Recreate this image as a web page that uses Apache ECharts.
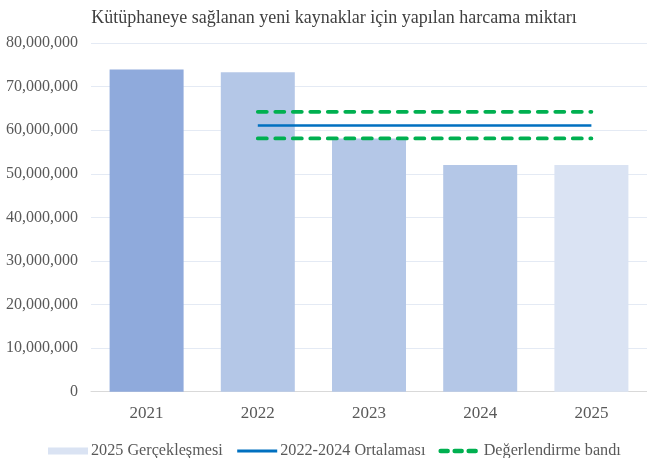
<!DOCTYPE html>
<html>
<head>
<meta charset="utf-8">
<script src="https://cdn.jsdelivr.net/npm/echarts@6/dist/echarts.min.js"></script>
<style>html,body{margin:0;padding:0;background:#fff}#c{width:647px;height:458px}</style>
</head>
<body>
<div id="c"></div>
<script>
const categories = ['2021', '2022', '2023', '2024', '2025'];
const spending = [73900000, 73300000, 58100000, 52000000, 52000000];
const average = [null, 61100000, 61100000, 61100000, 61100000];
const bandUpper = [null, 64200000, 64200000, 64200000, 64200000];
const bandLower = [null, 58100000, 58100000, 58100000, 58100000];
const yTicks = [0, 10000000, 20000000, 30000000, 40000000, 50000000, 60000000, 70000000, 80000000];

const barColors = ['#8FAADC', '#B4C7E7', '#B4C7E7', '#B4C7E7', '#DAE3F3'];
const FONT = '"Liberation Serif", "Times New Roman", serif';
const fmt = v => v.toLocaleString('en-US');

const chart = echarts.init(document.getElementById('c'), null, {renderer: 'canvas'});
chart.setOption({
  animation: false,
  textStyle: {fontFamily: FONT},
  title: {
    text: 'Kütüphaneye sağlanan yeni kaynaklar için yapılan harcama miktarı',
    left: 329, textAlign: 'center', top: 4,
    textStyle: {fontFamily: FONT, fontSize: 18, fontWeight: 'normal', color: '#404040'}
  },
  grid: {left: 91, width: 559, top: 43, bottom: 66.3},
  legend: {
    top: 438, left: 43,
    itemWidth: 40, itemHeight: 7, itemGap: 13,
    textStyle: {fontFamily: FONT, fontSize: 16.2, color: '#595959', padding: [0, 0, 0, -2]},
    data: [
      {name: '2025 Gerçekleşmesi', icon: 'rect'},
      {name: '2022-2024 Ortalaması', itemStyle: {opacity: 0}, lineStyle: {width: 3}},
      {name: 'Değerlendirme bandı', itemStyle: {opacity: 0}, lineStyle: {width: 4.5, type: [7, 7], cap: 'round'}}
    ]
  },
  xAxis: {
    type: 'category', data: categories,
    axisLine: {lineStyle: {color: '#D9D9D9', width: 1}},
    axisTick: {show: false},
    axisLabel: {fontFamily: FONT, fontSize: 17, color: '#595959', margin: 13}
  },
  yAxis: {
    type: 'value', min: yTicks[0], max: yTicks[yTicks.length - 1], interval: yTicks[1] - yTicks[0],
    axisLine: {show: false}, axisTick: {show: false},
    splitLine: {lineStyle: {color: '#E4EAF4', width: 1}},
    axisLabel: {fontFamily: FONT, fontSize: 16, color: '#595959', margin: 13, formatter: fmt}
  },
  series: [
    {
      name: '2025 Gerçekleşmesi', type: 'bar', barWidth: 74,
      itemStyle: {color: '#DAE3F3'},
      data: spending.map((v, i) => ({value: v, itemStyle: {color: barColors[i]}}))
    },
    {
      name: '2022-2024 Ortalaması', type: 'line', data: average, symbol: 'none', showSymbol: false,
      lineStyle: {color: '#0070C0', width: 2.5}, itemStyle: {color: '#0070C0'}, z: 3
    },
    {
      name: 'Değerlendirme bandı', type: 'line', data: bandUpper, symbol: 'none', showSymbol: false,
      lineStyle: {color: '#00B050', width: 3.8, type: [9, 8.5], cap: 'round'}, itemStyle: {color: '#00B050'}, z: 3
    },
    {
      name: 'Değerlendirme bandı', type: 'line', data: bandLower, symbol: 'none', showSymbol: false,
      lineStyle: {color: '#00B050', width: 3.8, type: [9, 8.5], cap: 'round'}, itemStyle: {color: '#00B050'}, z: 3
    }
  ]
});
</script>
</body>
</html>
